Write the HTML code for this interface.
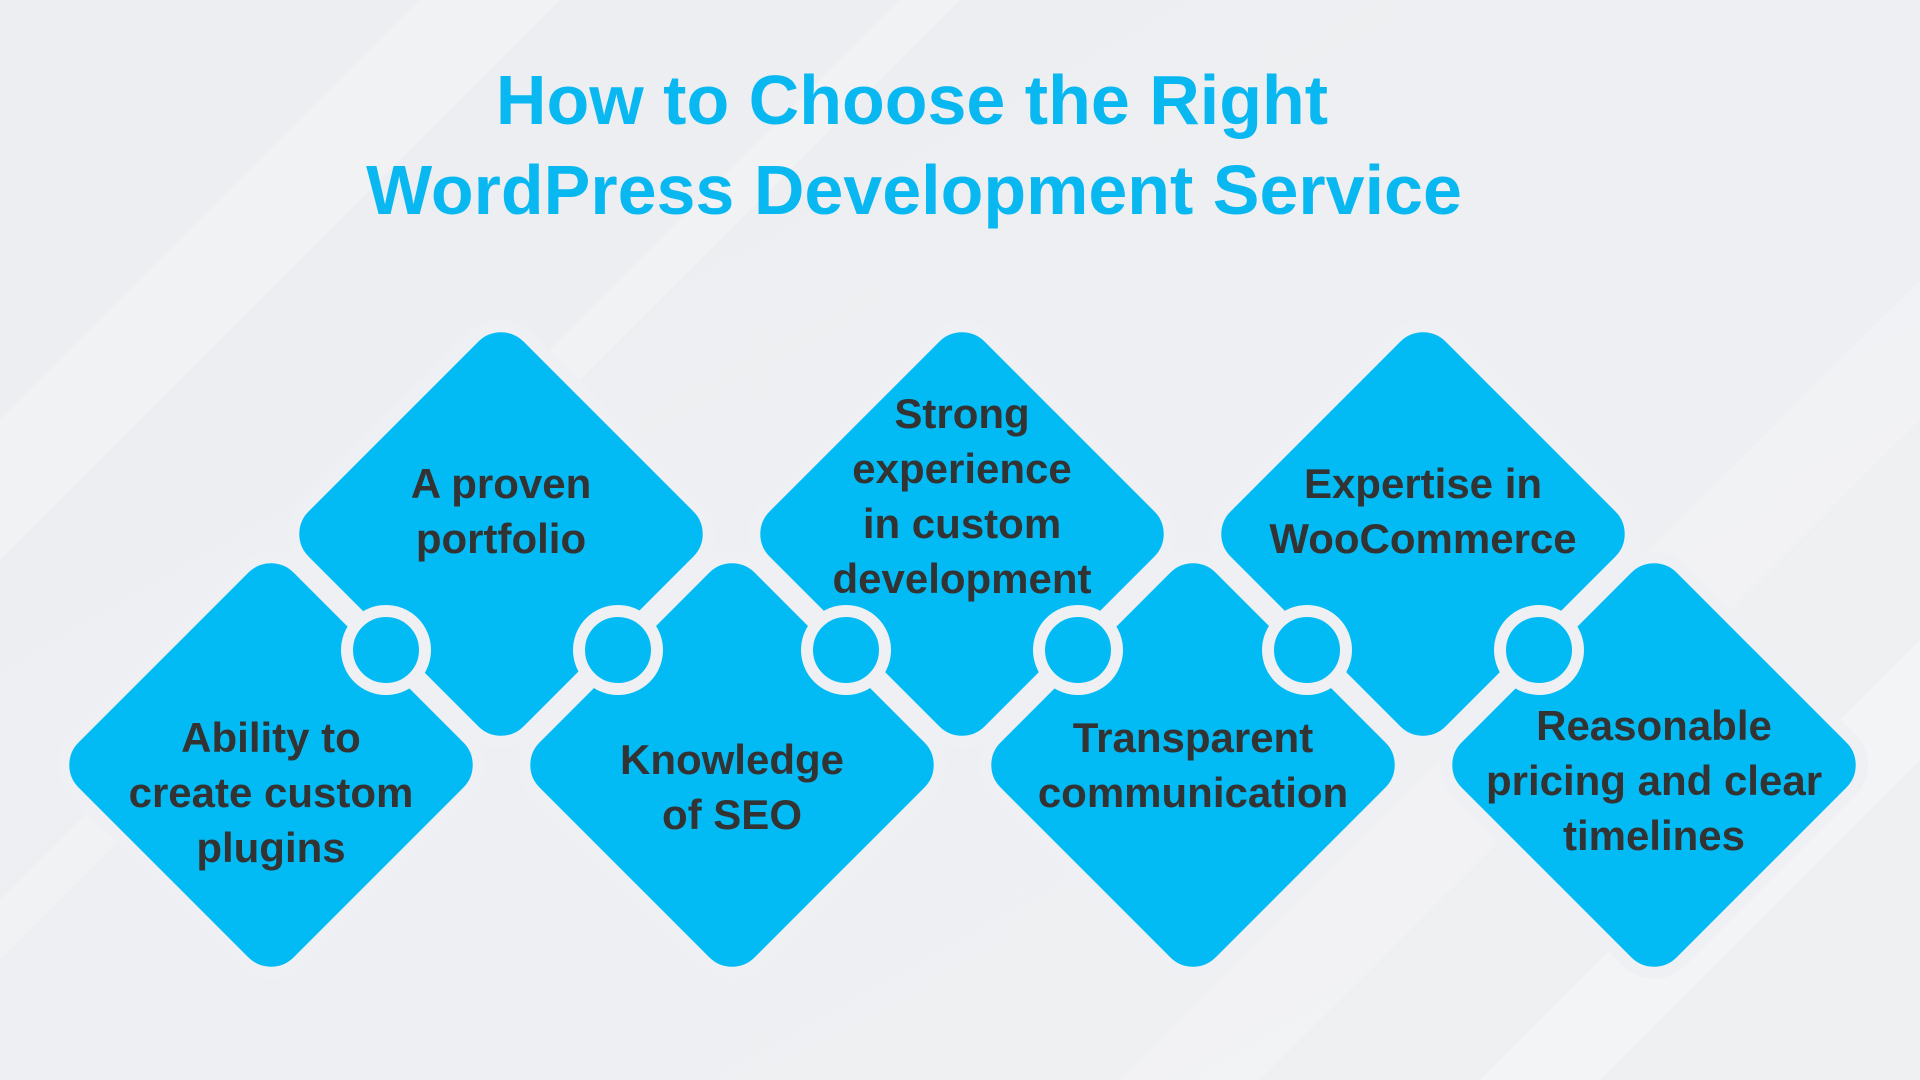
<!DOCTYPE html>
<html><head><meta charset="utf-8"><style>
html,body{margin:0;padding:0;width:1920px;height:1080px;overflow:hidden;background:#edeef0}
svg{display:block}
</style></head><body>
<svg width="1920" height="1080" viewBox="0 0 1920 1080" xmlns="http://www.w3.org/2000/svg">
<defs>
<linearGradient id="bg" x1="0" y1="0" x2="1" y2="1">
<stop offset="0" stop-color="#eceef1"/><stop offset="1" stop-color="#eef0f2"/>
</linearGradient>
<g id="dia"><rect x="-158" y="-158" width="316" height="316" rx="38" ry="38" transform="rotate(45)"/></g>
</defs>
<rect width="1920" height="1080" fill="url(#bg)"/>
<polygon points="0,420 420,0 560,0 0,560" fill="#f4f5f7" opacity="0.5"/>
<polygon points="0,900 900,0 960,0 0,960" fill="#f5f6f8" opacity="0.5"/>
<polygon points="1920,280 1920,420 1260,1080 1120,1080" fill="#f5f6f8" opacity="0.5"/>
<polygon points="1920,640 1920,760 1600,1080 1480,1080" fill="#f6f7f9" opacity="0.5"/>
<text x="912" y="124" text-anchor="middle" font-family="Liberation Sans, sans-serif" font-weight="bold" font-size="70" fill="#0ab8f1">How to Choose the Right</text>
<text x="914" y="214" text-anchor="middle" font-family="Liberation Sans, sans-serif" font-weight="bold" font-size="70" fill="#0ab8f1">WordPress Development Service</text>
<g fill="#02bbf5" stroke="#eef0f3" stroke-width="12">
<use href="#dia" x="501" y="534"/>
<use href="#dia" x="962" y="534"/>
<use href="#dia" x="1423" y="534"/>
<use href="#dia" x="271" y="765"/>
<use href="#dia" x="732" y="765"/>
<use href="#dia" x="1193" y="765"/>
<use href="#dia" x="1654" y="765"/>
</g>
<g fill="#02bbf5" stroke="#eef0f3" stroke-width="12">
<circle cx="386" cy="650" r="39"/>
<circle cx="618" cy="650" r="39"/>
<circle cx="846" cy="650" r="39"/>
<circle cx="1078" cy="650" r="39"/>
<circle cx="1307" cy="650" r="39"/>
<circle cx="1539" cy="650" r="39"/>
</g>
<g font-family="Liberation Sans, sans-serif" font-weight="bold" font-size="42" fill="#333333" text-anchor="middle">
<text x="501" y="498">A proven</text><text x="501" y="553">portfolio</text>
<text x="962" y="428">Strong</text><text x="962" y="483">experience</text><text x="962" y="538">in custom</text><text x="962" y="593">development</text>
<text x="1423" y="498">Expertise in</text><text x="1423" y="553">WooCommerce</text>
<text x="271" y="752">Ability to</text><text x="271" y="807">create custom</text><text x="271" y="862">plugins</text>
<text x="732" y="774">Knowledge</text><text x="732" y="829">of SEO</text>
<text x="1193" y="752">Transparent</text><text x="1193" y="807">communication</text>
<text x="1654" y="740">Reasonable</text><text x="1654" y="795">pricing and clear</text><text x="1654" y="850">timelines</text>
</g>
</svg>
</body></html>
